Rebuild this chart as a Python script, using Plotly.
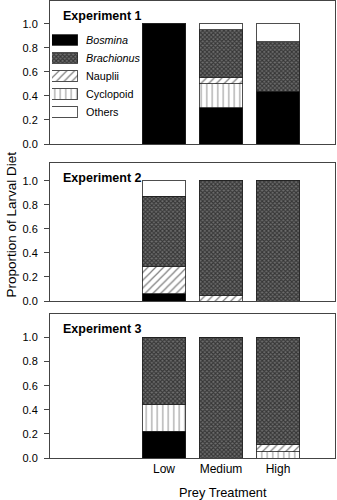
import plotly.graph_objects as go

# Prey treatments and their slot positions on the x axis (slot 1 left empty for the key)
treatments = ["Low", "Medium", "High"]
slots = [2, 3, 4]

# Prey categories, in stacking order (bottom to top)
prey = ["Bosmina", "Cyclopoid", "Nauplii", "Brachionus", "Others"]
key_order = ["Bosmina", "Brachionus", "Nauplii", "Cyclopoid", "Others"]
key_labels = {
    "Bosmina": "<i>Bosmina</i>",
    "Brachionus": "<i>Brachionus</i>",
    "Nauplii": "Nauplii",
    "Cyclopoid": "Cyclopoid",
    "Others": "Others",
}

# Proportion of larval diet per experiment: values listed Low, Medium, High
exp1_bosmina = [1.00, 0.30, 0.44]
exp1_cyclopoid = [0.00, 0.20, 0.00]
exp1_nauplii = [0.00, 0.05, 0.00]
exp1_brachionus = [0.00, 0.40, 0.41]
exp1_others = [0.00, 0.05, 0.15]

exp2_bosmina = [0.06, 0.00, 0.00]
exp2_cyclopoid = [0.00, 0.00, 0.00]
exp2_nauplii = [0.23, 0.05, 0.00]
exp2_brachionus = [0.58, 0.95, 1.00]
exp2_others = [0.13, 0.00, 0.00]

exp3_bosmina = [0.22, 0.00, 0.00]
exp3_cyclopoid = [0.22, 0.00, 0.05]
exp3_nauplii = [0.00, 0.00, 0.06]
exp3_brachionus = [0.56, 1.00, 0.89]
exp3_others = [0.00, 0.00, 0.00]

experiments = [
    ("Experiment 1", [exp1_bosmina, exp1_cyclopoid, exp1_nauplii, exp1_brachionus, exp1_others]),
    ("Experiment 2", [exp2_bosmina, exp2_cyclopoid, exp2_nauplii, exp2_brachionus, exp2_others]),
    ("Experiment 3", [exp3_bosmina, exp3_cyclopoid, exp3_nauplii, exp3_brachionus, exp3_others]),
]

FONT = "Liberation Sans, Arial, sans-serif"
OUTLINE = dict(color="#222222", width=0.8)

# Fill style for each prey category
styles = {
    "Bosmina": dict(color="#000000"),
    "Brachionus": dict(color="#ffffff",
                       pattern=dict(shape="x", size=3, solidity=0.6,
                                    fgcolor="#000000", bgcolor="#6e6e6e")),
    "Nauplii": dict(color="#ffffff",
                    pattern=dict(shape="/", size=5.5, solidity=0.22,
                                 fgcolor="#000000", bgcolor="#ffffff")),
    "Cyclopoid": dict(color="#ffffff",
                      pattern=dict(shape="|", size=5.5, solidity=0.2,
                                   fgcolor="#333333", bgcolor="#ffffff")),
    "Others": dict(color="#ffffff"),
}

fig = go.Figure()

# Panel layout: paper-fraction domains and y ranges
domains = [[0.687, 1.0], [0.3435, 0.6455], [0.0, 0.315]]
yranges = [[0, 1.189], [0, 1.147], [0, 1.194]]

for p, (title, series) in enumerate(experiments):
    ax = "" if p == 0 else str(p + 1)
    for name, vals in zip(prey, series):
        fig.add_trace(go.Bar(
            x=slots, y=vals, name=name, width=0.76,
            marker=dict(**styles[name], line=OUTLINE),
            xaxis="x" + ax, yaxis="y" + ax, showlegend=False,
        ))
    fig.add_annotation(
        text="<b>" + title + "</b>", xref="x" + ax + " domain", yref="y" + ax + " domain",
        x=0.04, y=1.0, yshift=-6, xanchor="left", yanchor="top", showarrow=False,
        font=dict(family=FONT, size=12.5, color="#000"),
    )
    common_x = dict(
        domain=[0, 1], range=[0, 5], anchor="y" + ax,
        showline=True, mirror=True, linecolor="#444", linewidth=1,
        showgrid=False, zeroline=False, ticks="",
        tickvals=slots, ticktext=treatments,
        showticklabels=(p == 2),
        tickfont=dict(family=FONT, size=12, color="#000"),
    )
    common_y = dict(
        domain=domains[p], range=yranges[p], anchor="x" + ax,
        showline=True, mirror=True, linecolor="#444", linewidth=1,
        showgrid=False, zeroline=False,
        ticks="outside", ticklen=5, tickwidth=1, tickcolor="#444",
        tickvals=[0, 0.2, 0.4, 0.6, 0.8, 1.0], tickformat=".1f",
        ticklabelstandoff=4,
        tickfont=dict(family=FONT, size=11, color="#000"),
    )
    fig.update_layout(**{"xaxis" + ax: common_x, "yaxis" + ax: common_y})

fig.update_layout(barmode="stack")

# Key: one wide swatch per prey category, drawn as horizontal bars in a small inset axis
for i, name in enumerate(key_order):
    fig.add_trace(go.Bar(
        x=[1], y=[i + 1], base=0, orientation="h", width=0.58,
        marker=dict(**styles[name], line=OUTLINE),
        xaxis="x4", yaxis="y4", showlegend=False, hoverinfo="skip",
    ))
    fig.add_annotation(
        text=key_labels[name], xref="paper", yref="y4",
        x=0.119, y=i + 1, xanchor="left", yanchor="middle", showarrow=False,
        font=dict(family=FONT, size=10.8, color="#000"),
    )

fig.update_layout(
    xaxis4=dict(domain=[0.007, 0.098], range=[0, 1], anchor="y4", visible=False),
    yaxis4=dict(domain=[0.737, 0.934], range=[5.5, 0.5], anchor="x4", visible=False),
)

# Shared axis titles
fig.add_annotation(
    text="Proportion of Larval Diet", xref="paper", yref="paper",
    x=-0.135, y=0.51, xanchor="center", yanchor="middle", textangle=-90, showarrow=False,
    font=dict(family=FONT, size=13.5, color="#000"),
)
fig.add_annotation(
    text="Prey Treatment", xref="paper", yref="paper",
    x=0.607, y=0, yshift=-34, xanchor="center", yanchor="middle", showarrow=False,
    font=dict(family=FONT, size=12.8, color="#000"),
)

fig.update_layout(
    width=337, height=500,
    margin=dict(l=50, r=2, t=1, b=42),
    paper_bgcolor="white", plot_bgcolor="white",
    bargap=0.24,
    font=dict(family=FONT, color="#000"),
)

fig.write_html("out.html", config={"displayModeBar": False})
